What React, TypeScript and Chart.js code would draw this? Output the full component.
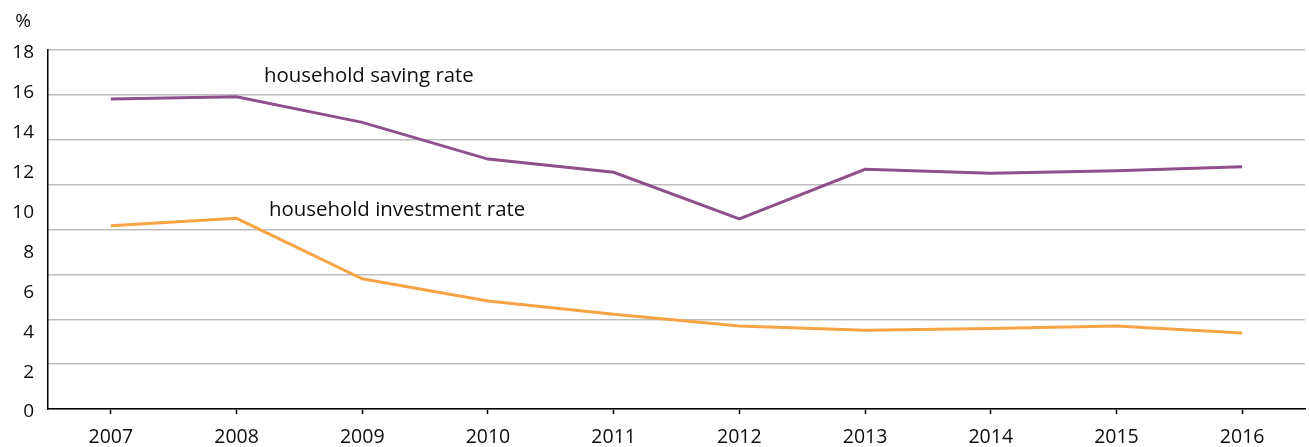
import React, { useEffect, useRef } from "react";
import { Chart, registerables } from "chart.js";

Chart.register(...registerables);

const years = ["2007", "2008", "2009", "2010", "2011", "2012", "2013", "2014", "2015", "2016"];
const savingRate = [15.54, 15.66, 14.37, 12.53, 11.87, 9.53, 12.02, 11.82, 11.95, 12.15];
const investmentRate = [9.19, 9.56, 6.53, 5.42, 4.75, 4.16, 3.95, 4.04, 4.16, 3.81];
const unitLabel = "%";
const savingLabel = "household saving rate";
const investmentLabel = "household investment rate";

const FONT = "'Open Sans', 'DejaVu Sans', sans-serif";
const TEXT = "#0d0d0d";

const textPlugin = {
  id: "textLabels",
  afterDraw(chart: any) {
    const ctx = chart.ctx;
    ctx.save();
    ctx.fillStyle = TEXT;
    ctx.font = `19px ${FONT}`;
    ctx.textBaseline = "middle";
    ctx.textAlign = "center";
    ctx.fillText(unitLabel, 23, 22);
    ctx.font = `20.4px ${FONT}`;
    ctx.textAlign = "left";
    ctx.fillText(savingLabel, 264, 76);
    ctx.fillText(investmentLabel, 269, 210);
    ctx.restore();
  },
};

export default function App() {
  const ref = useRef<HTMLCanvasElement | null>(null);
  useEffect(() => {
    document.body.style.margin = "0";
    const canvas = ref.current!;
    const chart = new Chart(canvas, {
      type: "line",
      data: {
        labels: years,
        datasets: [
          {
            label: savingLabel,
            data: savingRate,
            borderColor: "#8f4f8c",
            borderWidth: 3,
            pointRadius: 0,
            tension: 0,
            yAxisID: "y",
          },
          {
            label: investmentLabel,
            data: investmentRate,
            borderColor: "#f9a444",
            borderWidth: 3,
            pointRadius: 0,
            tension: 0,
            yAxisID: "y",
          },
        ],
      },
      options: {
        animation: false,
        responsive: false,
        maintainAspectRatio: false,
        layout: { padding: { top: 50, right: 4, left: 0, bottom: 0 } },
        plugins: { legend: { display: false }, tooltip: { enabled: false }, title: { display: false } },
        scales: {
          x: {
            type: "category",
            offset: true,
            grid: {
              display: true,
              drawOnChartArea: false,
              drawTicks: true,
              tickLength: 5,
              tickColor: "#000",
              tickWidth: 1.5,
              offset: false,
            },
            border: { display: true, color: "#000", width: 1.5 },
            ticks: { color: TEXT, font: { family: FONT, size: 19.5 }, padding: 12, maxRotation: 0, autoSkip: false },
            afterFit(scale: any) {
              scale.height = 38;
            },
          },
          y: {
            position: "left",
            min: 0,
            max: 18,
            grid: { display: false, drawTicks: false },
            border: { display: true, color: "#000", width: 1.5 },
            ticks: {
              stepSize: 2,
              color: TEXT,
              font: { family: FONT, size: 19 },
              padding: 14,
              labelOffset: 3,
            },
            afterFit(scale: any) {
              scale.width = 48;
            },
          },
          yg: {
            position: "right",
            min: 0,
            max: 18,
            grid: { display: true, drawTicks: false, color: "#bdbdbd", lineWidth: 1.5 },
            border: { display: false },
            ticks: { display: false, stepSize: 2.25 },
            afterFit(scale: any) {
              scale.width = 0;
            },
          },
        },
      },
      plugins: [textPlugin],
    });
    return () => chart.destroy();
  }, []);
  return (
    <div style={{ width: 1309, height: 447, background: "#fff" }}>
      <canvas ref={ref} width={1309} height={447} style={{ display: "block", width: 1309, height: 447 }} />
    </div>
  );
}
